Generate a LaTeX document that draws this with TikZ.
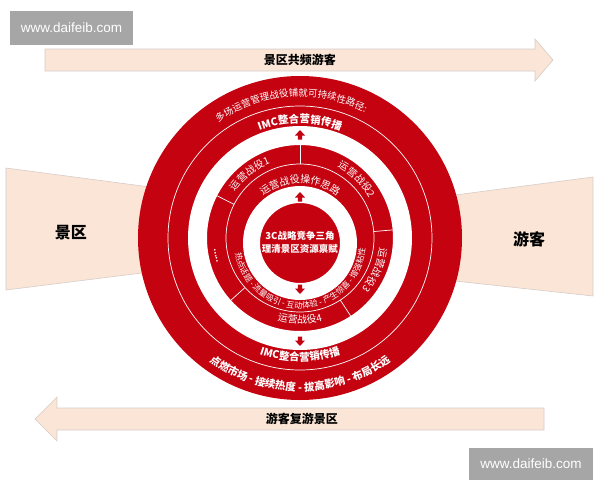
\documentclass[tikz,border=0pt]{standalone}
\usepackage{fontspec}
\setmainfont{Noto Sans CJK SC}
\newfontfamily\webfont{Liberation Sans}
\usetikzlibrary{decorations.text}
\definecolor{ringred}{RGB}{196,2,16}
\definecolor{peach}{RGB}{251,229,214}
\definecolor{peachline}{RGB}{214,204,200}
\definecolor{markgray}{RGB}{166,166,166}

\begin{document}
\begin{tikzpicture}[x=1pt,y=1pt,
      Band/.style={fill=peach, draw=peachline, line width=0.6pt},
      Mark/.style={fill=markgray, text=white, inner sep=0pt,
        font=\webfont\fontsize{13.5}{14}\selectfont},
      Title/.style={font=\bfseries\fontsize{12}{12}\selectfont},
      Side/.style={font=\bfseries\fontsize{16}{16}\selectfont},
      Thin/.style={draw=white, line width=0.7pt},
      ArcText/.style={decorate,
        decoration={text along path, text align=center, text={#1}}},
      uparrow/.pic={\fill[ringred] (-5,0) -- (0,5.5) -- (5,0) -- (2.2,0)
        -- (2.2,-4) -- (-2.2,-4) -- (-2.2,0) -- cycle;},
      ]
      \useasboundingbox (-300,-242) rectangle (300,238);

      \node[Mark, minimum width=123, minimum height=34] (mark1) at (-228.5,210) {www.daifeib.com};
      \node[Mark, minimum width=124, minimum height=32] (mark2) at (231,-226) {www.daifeib.com};

      \draw[Band] (-255,167) -- (235,167) -- (235,157) -- (253,178) -- (235,199) -- (235,189) -- (-255,189) -- cycle;
      \node[Title] (share) at (0,178) {景区共频游客};
      \draw[Band] (244,-170) -- (-243,-170) -- (-243,-159) -- (-265,-181) -- (-243,-203) -- (-243,-192) -- (244,-192) -- cycle;
      \node[Title] (revisit) at (2,-181) {游客复游景区};

      \draw[Band] (-294,70) -- (-150,51) -- (-150,-34) -- (-294,-52) -- cycle;
      \draw[Band] (155,43) -- (293,61) -- (293,-58) -- (155,-43) -- cycle;
      \node[Side] (scenic) at (-229,5) {景区};
      \node[Side] (tourist) at (229,-1) {游客};

      \fill[ringred] (0,0) circle[radius=162];
      \draw[Thin] (0,0) circle[radius=132];
      \fill[white, even odd rule] (0,0) circle[radius=112] (0,0) circle[radius=93];
      \draw[Thin] (0,0) circle[radius=74];
      \foreach \a in {90,153,222,303,5}
        \draw[Thin] (\a:74) -- (\a:93);
      \fill[white, even odd rule] (0,-5) circle[radius=57] (0,-5) circle[radius=40];

      \pic at (0,102.5) {uparrow};
      \pic[rotate=180] at (0,-102.5) {uparrow};
      \pic at (0,40.5) {uparrow};
      \pic[rotate=180] at (0,-50.5) {uparrow};

      \path[ArcText={|\fontsize{9.5}{10}\selectfont\color{white}|多场运营管理战役铺就可持续性路径:}]
        (130:141.5) arc[start angle=130, end angle=58, radius=141.5];
      \path[ArcText={|\bfseries\fontsize{10.5}{11}\selectfont\color{white}|IMC整合营销传播}]
        (120:115) arc[start angle=120, end angle=60, radius=115];
      \path[ArcText={|\bfseries\fontsize{10.5}{11}\selectfont\color{white}|IMC整合营销传播}]
        (240:123) arc[start angle=240, end angle=300, radius=123];
      \path[ArcText={|\bfseries\fontsize{10.5}{11}\selectfont\color{white}|点燃市场 - 接续热度 - 拔高影响 - 布局长远}]
        (220:153) arc[start angle=220, end angle=320, radius=153];

      \path[ArcText={|\fontsize{10}{10}\selectfont\color{white}|运营战役1}]
        (155:80.2) arc[start angle=155, end angle=101, radius=80.2];
      \path[ArcText={|\fontsize{10}{10}\selectfont\color{white}|运营战役2}]
        (73:80.2) arc[start angle=73, end angle=19, radius=80.2];
      \path[ArcText={|\fontsize{10}{10}\selectfont\color{white}|运营战役3}]
        (4:80.2) arc[start angle=4, end angle=-50, radius=80.2];
      \path[ArcText={|\fontsize{10}{10}\selectfont\color{white}|运营战役4}]
        (243:85.8) arc[start angle=243, end angle=297, radius=85.8];
      \node[text=white, inner sep=0pt, font=\bfseries\fontsize{8}{8}\selectfont, rotate=102] (more) at (192:86) {.....};

      \begin{scope}[shift={(0,-5)}]
        \path[ArcText={|\fontsize{10}{10}\selectfont\color{white}|运营战役操作思路}]
          (135:60) arc[start angle=135, end angle=45, radius=60];
        \path[ArcText={|\fontsize{8.2}{9}\selectfont\color{white}|热点话题 - 流量吸引 - 互动体验 - 产生惊喜 - 增强粘性}]
          (177:65.5) arc[start angle=177, end angle=367, radius=65.5];
      \end{scope}

      \node[align=center, text=white, font=\bfseries\fontsize{9.5}{13}\selectfont] (core) at (0,-4)
        {3C战略竞争三角\\理清景区资源禀赋};
    \end{tikzpicture}
\end{document}
